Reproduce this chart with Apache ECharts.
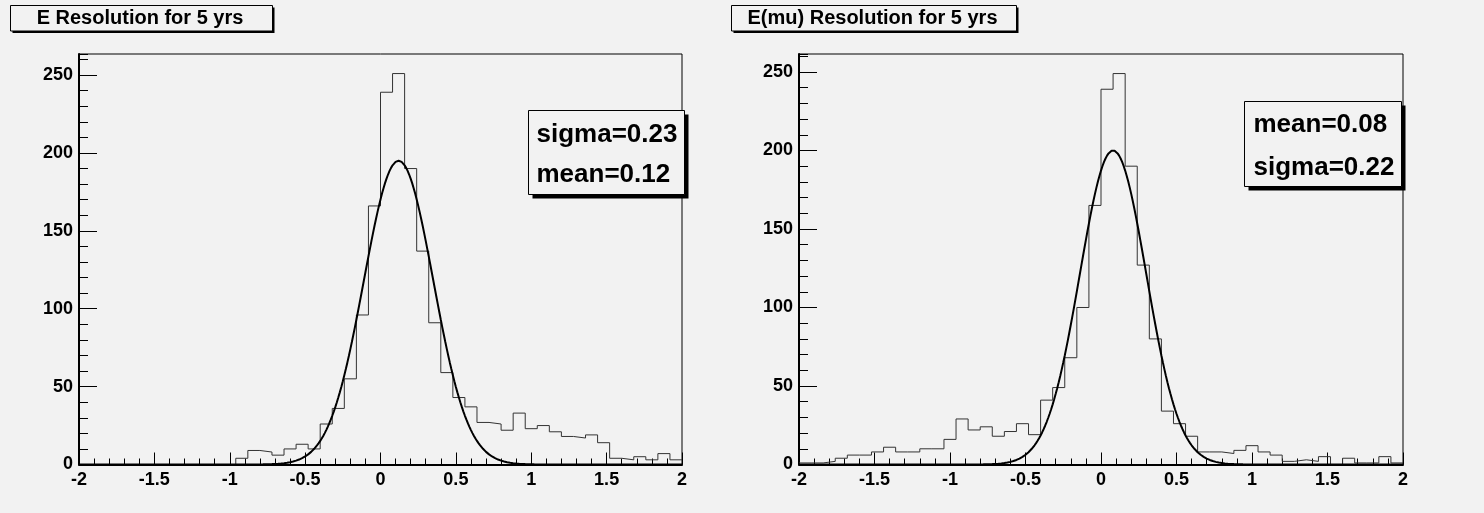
<!DOCTYPE html>
<html>
<head>
<meta charset="utf-8">
<title>Energy resolution histograms</title>
<script src="https://cdn.jsdelivr.net/npm/echarts@6/dist/echarts.min.js"></script>
<style>
  html, body { margin: 0; padding: 0; background: #f2f2f2; }
  #chart { width: 1484px; height: 513px; }
</style>
</head>
<body>
<div id="chart"></div>
<script>
// Binning shared by both histograms: 50 bins over [-2, 2]
const binLow = -2;
const binWidth = 0.08;
const nBins = 50;

// E resolution, counts per bin
const eCounts = [
  0, 0, 0, 0, 0, 0, 0, 0, 0, 0,
  0, 0, 0, 4, 9, 8, 6, 10, 13, 10,
  26, 36, 55, 96, 166, 239, 251, 190, 137, 91,
  59, 43, 37, 27, 26, 22, 33, 23, 25, 21,
  18, 17, 19, 14, 4, 3, 5, 3, 7, 3
];

// E(mu) resolution, counts per bin
const emuCounts = [
  1, 1, 2, 4, 6, 6, 8, 11, 8, 8,
  10, 10, 16, 29, 22, 24, 18, 21, 26, 19,
  41, 49, 68, 100, 165, 239, 249, 190, 127, 80,
  34, 26, 18, 8, 8, 7, 9, 12, 8, 6,
  2, 3, 2, 5, 0, 4, 1, 1, 5, 1
];

// Gaussian fit results (amplitude, mean, sigma)
const eFit = { amp: 195, mean: 0.12, sigma: 0.23 };
const emuFit = { amp: 200, mean: 0.08, sigma: 0.22 };

// Axis tick labels
const xTickLabels = ['-2', '-1.5', '-1', '-0.5', '0', '0.5', '1', '1.5', '2'];
const yTickLabels = ['0', '50', '100', '150', '200', '250'];

const titles = ['E Resolution for 5 yrs', 'E(mu) Resolution for 5 yrs'];
const eStatLines = ['sigma=0.23', 'mean=0.12'];
const emuStatLines = ['mean=0.08', 'sigma=0.22'];

const BG = '#f2f2f2';
const FONT = '"Liberation Sans", Arial, Helvetica, sans-serif';

// Step outline of a histogram: one point per lower bin edge plus the upper edge
function stepPoints(counts) {
  const pts = counts.map((c, k) => [binLow + k * binWidth, c]);
  pts.push([binLow + nBins * binWidth, counts[counts.length - 1]]);
  return pts;
}

// Sampled fit function over the histogram range
function fitPoints(fit) {
  const pts = [];
  const xHigh = binLow + nBins * binWidth;
  for (let i = 0; i <= 400; i++) {
    const x = binLow + (xHigh - binLow) * i / 400;
    const z = (x - fit.mean) / fit.sigma;
    pts.push([x, fit.amp * Math.exp(-0.5 * z * z)]);
  }
  return pts;
}

const grids = [
  { left: 79, top: 54, width: 603, height: 410.5 },
  { left: 799, top: 54, width: 604, height: 410.5 }
];

const xLabelFmt = v => {
  const s = String(Math.round(v * 10) / 10);
  return xTickLabels.includes(s) ? s : '';
};
const yLabelFmt = v => {
  const s = String(Math.round(v));
  return (Math.abs(v - Math.round(v)) < 1e-6 && yTickLabels.includes(s)) ? s : '';
};

const labelStyle = { color: '#000', fontSize: 18, fontWeight: 'bold', fontFamily: FONT };

function xAxesFor(gi) {
  return [
    {
      gridIndex: gi, type: 'value', position: 'bottom', min: -2, max: 2, interval: 0.5,
      axisLine: { show: true, onZero: false, lineStyle: { color: '#000', width: 2 } },
      axisTick: { show: true, inside: true, length: 12, lineStyle: { color: '#000', width: 1 } },
      axisLabel: Object.assign({ show: true, margin: 7, showMinLabel: true, showMaxLabel: true, formatter: xLabelFmt }, labelStyle),
      splitLine: { show: false }
    },
    {
      gridIndex: gi, type: 'value', position: 'bottom', min: -2, max: 2, interval: 0.1,
      axisLine: { show: false, onZero: false },
      axisTick: { show: true, inside: true, length: 6, lineStyle: { color: '#000', width: 1 } },
      axisLabel: { show: false },
      splitLine: { show: false }
    }
  ];
}

function yAxesFor(gi, counts) {
  const yMax = Math.max(...counts) * 1.05;
  return [
    {
      gridIndex: gi, type: 'value', position: 'left', min: 0, max: yMax, interval: 50,
      axisLine: { show: true, onZero: false, lineStyle: { color: '#000', width: 2 } },
      axisTick: { show: true, inside: true, length: 18, lineStyle: { color: '#000', width: 1 } },
      axisLabel: Object.assign({ show: true, margin: 6, showMinLabel: true, showMaxLabel: false, formatter: yLabelFmt }, labelStyle),
      splitLine: { show: false }
    },
    {
      gridIndex: gi, type: 'value', position: 'left', min: 0, max: yMax, interval: 10,
      axisLine: { show: false, onZero: false },
      axisTick: { show: true, inside: true, length: 9, lineStyle: { color: '#000', width: 1 } },
      axisLabel: { show: false },
      splitLine: { show: false }
    }
  ];
}

function histSeries(counts, xi, yi) {
  return {
    type: 'line', xAxisIndex: xi, yAxisIndex: yi, step: 'end',
    data: stepPoints(counts), showSymbol: false, symbol: 'none',
    lineStyle: { color: '#333', width: 1 }, z: 3, silent: true
  };
}

function fitSeries(fit, xi, yi) {
  return {
    type: 'line', xAxisIndex: xi, yAxisIndex: yi,
    data: fitPoints(fit), showSymbol: false, symbol: 'none', smooth: false,
    lineStyle: { color: '#000', width: 2 }, z: 4, silent: true
  };
}

// Boxed title / statistics panel with a drop shadow
function pave(x, y, w, h, shadow, lines, opts) {
  const els = [
    { type: 'rect', shape: { x: x + shadow, y: y + shadow, width: w, height: h }, style: { fill: '#000' }, z: 10 },
    { type: 'rect', shape: { x: x, y: y, width: w, height: h }, style: { fill: BG, stroke: '#000', lineWidth: 1 }, z: 11 }
  ];
  lines.forEach((t, i) => {
    els.push({
      type: 'text', z: 12,
      x: opts.align === 'center' ? x + w / 2 + (opts.dx || 0) : x + opts.padX,
      y: opts.ys[i],
      style: {
        text: t, fill: '#000', font: 'bold ' + opts.size + 'px ' + FONT,
        textAlign: opts.align, textVerticalAlign: 'middle'
      }
    });
  });
  return els;
}

const graphics = [].concat(
  pave(10.5, 5.5, 262, 25.5, 2, [titles[0]], { align: 'center', size: 20, dx: -1.5, ys: [18.5] }),
  pave(731.5, 5.5, 285, 25.5, 2, [titles[1]], { align: 'center', size: 20, dx: -1.5, ys: [18.5] }),
  pave(528.5, 110.5, 156, 84, 4, eStatLines, { align: 'left', padX: 8, size: 26, ys: [134.5, 175] }),
  pave(1244.5, 101.5, 157, 85, 4, emuStatLines, { align: 'left', padX: 9, size: 26, ys: [124.5, 167.5] })
);

const chart = echarts.init(document.getElementById('chart'), null, { renderer: 'canvas' });
chart.setOption({
  backgroundColor: BG,
  animation: false,
  grid: grids.map(g => Object.assign({
    show: true, borderColor: '#000', borderWidth: 1, backgroundColor: 'transparent',
    containLabel: false, outerBoundsMode: 'none'
  }, g)),
  xAxis: [].concat(xAxesFor(0), xAxesFor(1)),
  yAxis: [].concat(yAxesFor(0, eCounts), yAxesFor(1, emuCounts)),
  series: [
    histSeries(eCounts, 0, 0),
    fitSeries(eFit, 0, 0),
    histSeries(emuCounts, 2, 2),
    fitSeries(emuFit, 2, 2)
  ],
  graphic: { elements: graphics }
});
</script>
</body>
</html>
